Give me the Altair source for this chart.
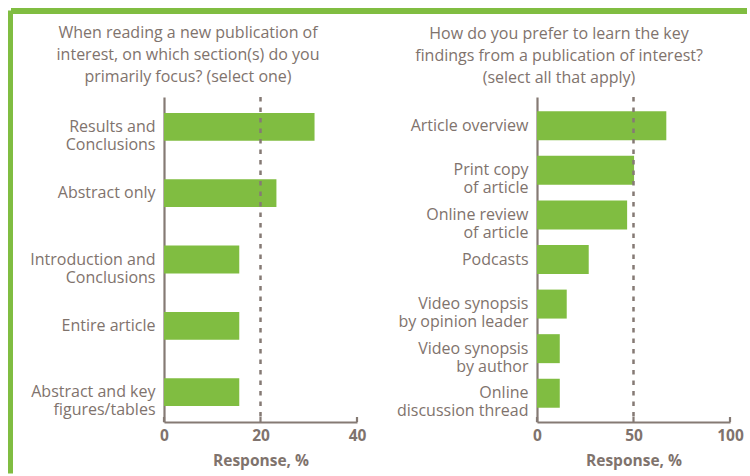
import altair as alt
import pandas as pd

# ---- data ----
left_cats = ["Results and|Conclusions", "Abstract only", "Introduction and|Conclusions",
             "Entire article", "Abstract and key|figures/tables"]
left_vals = [31.2, 23.3, 15.6, 15.6, 15.6]
left_ticks = [0, 20, 40]
left_ref = [20]

right_cats = ["Article overview", "Print copy |of article", "Online review|of article", "Podcasts",
              "Video synopsis|by opinion leader", "Video synopsis|by author", "Online|discussion thread"]
right_vals = [67, 50.3, 46.7, 26.8, 15.4, 11.8, 11.8]
right_ticks = [0, 50, 100]
right_ref = [50]

left_title = ["When reading a new publication of", "interest, on which section(s) do you",
              "primarily focus? (select one)"]
right_title = ["How do you prefer to learn the key", "findings from a publication of interest?",
               "(select all that apply)"]

GREEN = "#80bd41"
TXT = "#7f736d"
AX = "#857a74"
FONT = "Open Sans"
W, H = 193, 325


def panel(cats, vals, ticks, ref, title, pin, pout, dx, border=False):
    df = pd.DataFrame({"cat": cats, "val": vals})
    xs = alt.Scale(domain=[ticks[0], ticks[-1]], nice=False)
    bars = alt.Chart(df).mark_bar(color=GREEN).encode(
        x=alt.X("val:Q", scale=xs,
                axis=alt.Axis(values=ticks, title="Response, %", grid=False, ticks=False,
                              labelFlush=False, labelFontWeight="bold", labelFontSize=15.5,
                              labelColor=TXT, labelFont=FONT, labelPadding=6,
                              titleFontWeight="bold", titleFontSize=15.5, titleColor=TXT,
                              titleFont=FONT, titlePadding=10,
                              domainColor=AX, domainWidth=2.2)),
        y=alt.Y("cat:N", sort=cats, scale=alt.Scale(paddingInner=pin, paddingOuter=pout),
                axis=alt.Axis(title=None, ticks=False, labelFontSize=16, labelColor=TXT,
                              labelFont=FONT, labelPadding=9, labelLimit=300,
                              labelLineHeight=18,
                              labelExpr="split(datum.label, '|')",
                              domainColor=AX, domainWidth=2.2)),
    )
    refline = alt.Chart(pd.DataFrame({"r": ref})).mark_rule(
        color=AX, strokeWidth=2.5, strokeDash=[4.5, 6]).encode(x=alt.X("r:Q", scale=xs))
    tk = alt.Chart(pd.DataFrame({"t": ticks})).mark_rule(color=AX, strokeWidth=2.2).encode(
        x=alt.X("t:Q", scale=xs), y=alt.value(H - 5), y2=alt.value(H))
    layers = [bars, refline, tk]
    dy = 0
    if border:
        d = pd.DataFrame({"d": [0]})
        vline = alt.Chart(d).mark_rule(color=GREEN, strokeWidth=5).encode(
            x=alt.value(-153.5), y=alt.value(-86.5), y2=alt.value(376.5))
        hline = alt.Chart(d).mark_rule(color=GREEN, strokeWidth=6).encode(
            x=alt.value(-153), x2=alt.value(583), y=alt.value(-86))
        layers += [vline, hline]
        dy = 87
    return alt.layer(*layers).properties(
        width=W, height=H,
        title=alt.TitleParams(text=title, fontSize=16, font=FONT, color=TXT,
                              fontWeight="normal", anchor="middle", frame="group",
                              lineHeight=22, offset=10, dx=dx, dy=dy))


left = panel(left_cats, left_vals, left_ticks, left_ref, left_title, 0.58, 0.24, -72.5, border=True)
right = panel(right_cats, right_vals, right_ticks, right_ref, right_title, 0.35, 0.32, -74.5)

chart = alt.hconcat(left, right, spacing=180, bounds="flush").properties(
    padding={"left": 8, "top": 8, "right": 0, "bottom": 0}
).configure(background="white").configure_view(stroke=None)

chart.save("out.html", embed_options={"renderer": "svg", "actions": False})
